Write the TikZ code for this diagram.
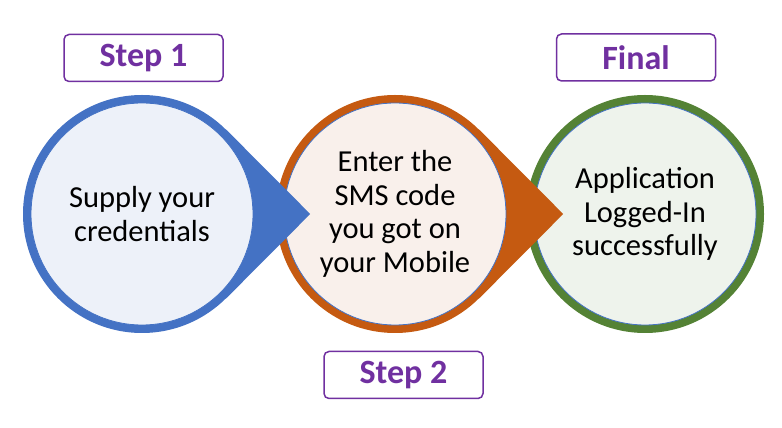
\documentclass[tikz,border=0pt]{standalone}
\usepackage{fontspec}
\setmainfont{Carlito}
\usetikzlibrary{positioning}

\definecolor{ringblue}{HTML}{4472C4}
\definecolor{ringorange}{HTML}{C55A11}
\definecolor{ringgreen}{HTML}{548235}
\definecolor{lightblue}{HTML}{EDF1F9}
\definecolor{lightorange}{HTML}{F9F0EB}
\definecolor{lightgreen}{HTML}{EEF3EC}
\definecolor{labelpurple}{HTML}{7030A0}

\begin{document}
\begin{tikzpicture}[x=1pt, y=1pt,
    ring/.style={circle, minimum size=238pt, inner sep=0pt},
    disc/.style={circle, minimum size=222pt, inner sep=0pt,
                 draw=ringblue, line width=0.8pt, align=center,
                 font=\fontsize{30.5}{33.5}\selectfont},
    steplabel/.style={draw=labelpurple, line width=1.5pt, rounded corners=5pt,
                      fill=white, minimum width=159pt, minimum height=47pt,
                      font=\fontsize{34}{38}\selectfont\bfseries, text=labelpurple},
]
\useasboundingbox (0,0) rectangle (782,428);

% ===================== FINAL CIRCLE =====================
\node[ring, fill=ringgreen] (ring3) at (645, 214) {};
\node[disc, fill=lightgreen] (disc3) at (ring3.center)
    {Application\\Logged-In\\successfully};

% ===================== STEP CIRCLES =====================
% right to left, so that each tip lies over the next circle
\foreach \r/\x/\col/\light/\txt in {
    2/395/ringorange/lightorange/{Enter the\\SMS code\\you got on\\your Mobile},
    1/142/ringblue/lightblue/{Supply your\\credentials}} {

    % ring and its tip
    \node[ring, fill=\col] (ring\r) at (\x, 214) {};
    \fill[\col] (ring\r.45) -- ([xshift=49pt]ring\r.east) -- (ring\r.-45) -- cycle;

    % inner disc with text
    \node[disc, fill=\light] (disc\r) at (ring\r.center) {\txt};
}

% ===================== LABELS =====================
\node[steplabel] (step1) at (143.5, 370) {Step 1};
\node[steplabel] (step2) at (403.5, 53) {Step 2};
\node[steplabel] (final) at (636, 370.5) {Final};

\end{tikzpicture}
\end{document}
